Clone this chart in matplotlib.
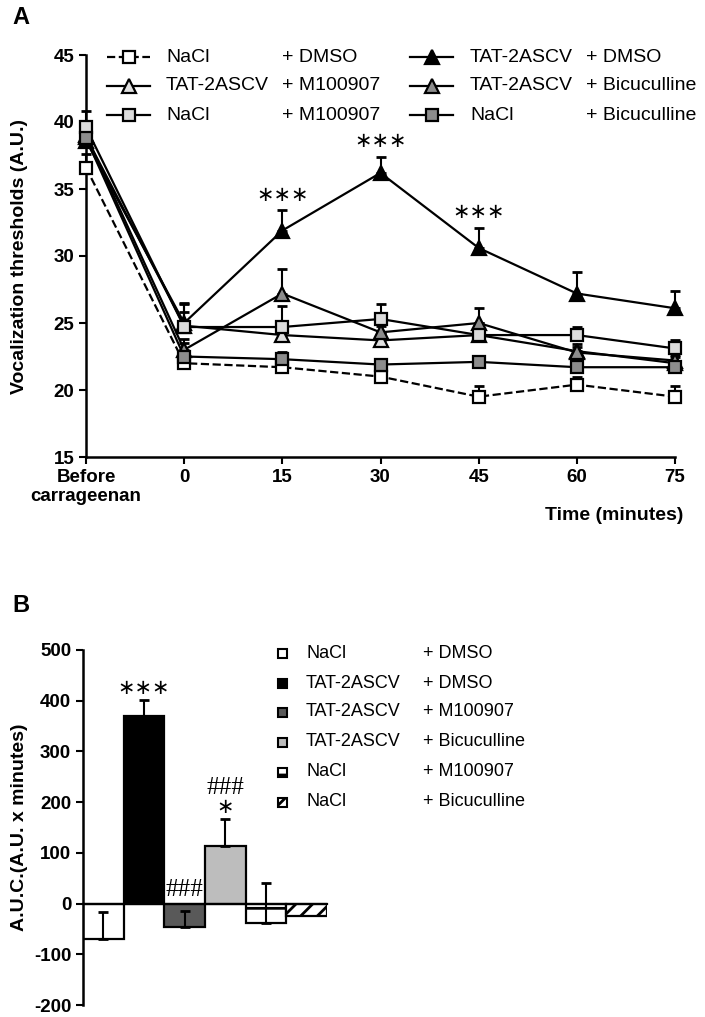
import matplotlib.pyplot as plt
from matplotlib.lines import Line2D
from matplotlib.patches import Rectangle
import numpy as np

plt.rcParams['font.family'] = ['Liberation Sans', 'DejaVu Sans']
plt.rcParams['hatch.linewidth'] = 2.0
plt.rcParams['axes.unicode_minus'] = False

W, H = 705, 1017
def fx(x): return x / W
def fy(y): return 1 - y / H

# ---- data ----
time_labels = ['Before\ncarrageenan', '0', '15', '30', '45', '60', '75']
drug = ['NaCl', 'TAT-2ASCV', 'TAT-2ASCV', 'TAT-2ASCV', 'NaCl', 'NaCl']
treat = ['+ DMSO', '+ DMSO', '+ M100907', '+ Bicuculline', '+ M100907', '+ Bicuculline']

nacl_dmso = [36.6, 22.0, 21.7, 21.0, 19.5, 20.4, 19.5]
tat_dmso = [38.6, 25.0, 31.9, 36.2, 30.6, 27.2, 26.1]
tat_m100 = [38.9, 24.8, 24.1, 23.7, 24.1, 22.9, 22.0]
tat_bic = [39.0, 23.0, 27.2, 24.3, 25.0, 22.8, 22.2]
nacl_m100 = [39.6, 24.7, 24.7, 25.3, 24.1, 24.1, 23.1]
nacl_bic = [38.8, 22.5, 22.3, 21.9, 22.1, 21.7, 21.7]

nacl_dmso_err = [1.0, 0.4, 0.4, 0.4, 0.8, 0.6, 0.8]
tat_dmso_err = [1.0, 1.4, 1.5, 1.2, 1.5, 1.6, 1.3]
tat_m100_err = [1.0, 1.0, 0.5, 0.6, 0.9, 0.5, 0.5]
tat_bic_err = [1.0, 0.8, 1.8, 0.5, 1.1, 0.4, 0.4]
nacl_m100_err = [1.2, 1.8, 1.6, 1.1, 0.6, 0.6, 0.6]
nacl_bic_err = [1.2, 1.0, 0.5, 0.4, 0.4, 0.4, 0.4]

line_stars = {2: '***', 3: '***', 4: '***'}

auc = [-70, 370, -47, 113, -38, -24]
auc_err = [53, 31, 32, 54, 78, 0]

series = [nacl_dmso, tat_dmso, tat_m100, tat_bic, nacl_m100, nacl_bic]
errs = [nacl_dmso_err, tat_dmso_err, tat_m100_err, tat_bic_err, nacl_m100_err, nacl_bic_err]
markers = ['s', '^', '^', '^', 's', 's']
mcolors = ['white', 'black', '#e0e0e0', '#8c8c8c', '#dcdcdc', '#8c8c8c']
lstyles = ['--', '-', '-', '-', '-', '-']

bar_colors = ['white', 'black', '#595959', '#bdbdbd', 'white', 'white']
bar_hatch = [None, None, None, None, '-', '//']

bold_font = ['Liberation Sans Narrow', 'Liberation Sans']

fig = plt.figure(figsize=(7.05, 10.17), dpi=100)

# ---- panel A ----
ax = fig.add_axes([fx(86), fy(457), fx(675) - fx(86), fy(55) - fy(457)])
x = np.arange(len(time_labels))
for i in range(len(series)):
    y = np.array(series[i])
    e = np.array(errs[i])
    ax.errorbar(x, y, yerr=[np.zeros_like(e), e], fmt='none', ecolor='black',
                elinewidth=1.5, capsize=3.5, capthick=2, clip_on=False, zorder=2)
    ax.plot(x, y, linestyle=lstyles[i], color='black', lw=1.6, marker=markers[i],
            ms=10 if markers[i] == '^' else 9, mfc=mcolors[i], mec='black', mew=1.6,
            clip_on=False, zorder=3)
for k, s in line_stars.items():
    top = tat_dmso[k] + tat_dmso_err[k]
    ax.text(x[k], top + 0.4, '∗∗∗', ha='center', va='bottom', fontsize=15,
            family='DejaVu Sans')

ax.set_xlim(0, 6)
ax.set_ylim(15, 45)
ax.set_yticks(range(15, 46, 5))
ax.set_xticks(x)
ax.set_xticklabels(time_labels)
for sp in ['top', 'right']:
    ax.spines[sp].set_visible(False)
for sp in ['left', 'bottom']:
    ax.spines[sp].set_linewidth(1.8)
ax.tick_params(axis='both', width=1.5, length=5, labelsize=13.5)
for lab in ax.get_xticklabels() + ax.get_yticklabels():
    lab.set_fontweight('bold')
    lab.set_family(bold_font)
ax.set_ylabel('Vocalization thresholds (A.U.)', fontsize=14, fontweight='bold',
              family=bold_font)
ax.yaxis.set_label_coords((28 - 86) / (675 - 86), 0.5)
fig.text(fx(683), fy(515), 'Time (minutes)', ha='right', va='center', fontsize=14,
         fontweight='bold', family=bold_font)

# legend A (two columns, three rows)
order = [[0, 2, 4], [1, 3, 5]]
col_x = [(107, 150, 166, 282), (410, 453, 470, 586)]
row_y = [57, 86, 115]
for c in range(2):
    x0, x1, tx1, tx2 = col_x[c]
    for r, i in enumerate(order[c]):
        yy = fy(row_y[r])
        fig.add_artist(Line2D([fx(x0), fx(x1)], [yy, yy], transform=fig.transFigure,
                              color='black', lw=1.6, linestyle=lstyles[i]))
        fig.add_artist(Line2D([fx((x0 + x1) / 2)], [yy], transform=fig.transFigure,
                              marker=markers[i], ms=10 if markers[i] == '^' else 9,
                              mfc=mcolors[i], mec='black', mew=1.6, linestyle='none'))
        fig.text(fx(tx1), yy, drug[i], ha='left', va='center', fontsize=14)
        fig.text(fx(tx2), yy, treat[i], ha='left', va='center', fontsize=14)

fig.text(fx(12), fy(18), 'A', fontsize=17, fontweight='bold', ha='left', va='center')
fig.text(fx(12), fy(605), 'B', fontsize=17, fontweight='bold', ha='left', va='center')

# ---- panel B ----
bx = fig.add_axes([fx(83), fy(1005), fx(327) - fx(83), fy(650) - fy(1005)])
xb = np.arange(len(auc))
for i in range(len(auc)):
    bx.bar(xb[i], auc[i], width=1.0, color=bar_colors[i], edgecolor='black',
           linewidth=1.6, hatch=bar_hatch[i], zorder=2)
    if auc_err[i] > 0:
        bx.errorbar(xb[i], auc[i], yerr=[[0], [auc_err[i]]], fmt='none', ecolor='black',
                    elinewidth=1.5, capsize=3.5, capthick=2, zorder=3)
bx.text(xb[1], auc[1] + auc_err[1] + 5, '∗∗∗', ha='center', va='bottom', fontsize=15,
        family='DejaVu Sans')
bx.text(xb[2], 6, '###', ha='center', va='bottom', fontsize=18, family='Liberation Serif')
bx.text(xb[3], auc[3] + auc_err[3] + 3, '∗', ha='center', va='bottom', fontsize=15,
        family='DejaVu Sans')
bx.text(xb[3], auc[3] + auc_err[3] + 40, '###', ha='center', va='bottom', fontsize=18,
        family='Liberation Serif')

bx.set_xlim(-0.5, 5.5)
bx.set_ylim(-200, 500)
bx.set_yticks(range(-200, 501, 100))
bx.set_xticks([])
bx.spines['top'].set_visible(False)
bx.spines['right'].set_visible(False)
bx.spines['bottom'].set_position(('data', 0))
bx.spines['bottom'].set_linewidth(1.6)
bx.spines['bottom'].set_zorder(4)
bx.spines['left'].set_linewidth(1.8)
bx.tick_params(axis='y', width=1.5, length=5, labelsize=13.5)
for lab in bx.get_yticklabels():
    lab.set_fontweight('bold')
    lab.set_family(bold_font)
bx.set_ylabel('A.U.C.(A.U. x minutes)', fontsize=14, fontweight='bold',
              family=bold_font)
bx.yaxis.set_label_coords((28 - 83) / (327 - 83), 0.5)

# legend B
leg_y = [653, 683, 712, 742, 772, 802]
for i in range(len(auc)):
    yy = fy(leg_y[i])
    fig.add_artist(Rectangle((fx(278), yy - 4.5 / H), 9 / W, 9 / H, transform=fig.transFigure,
                             facecolor=bar_colors[i], edgecolor='black', lw=1.5,
                             hatch=bar_hatch[i]))
    fig.text(fx(306), yy, drug[i], ha='left', va='center', fontsize=13)
    fig.text(fx(423), yy, treat[i], ha='left', va='center', fontsize=13)

fig.savefig('out.png', dpi=100)
